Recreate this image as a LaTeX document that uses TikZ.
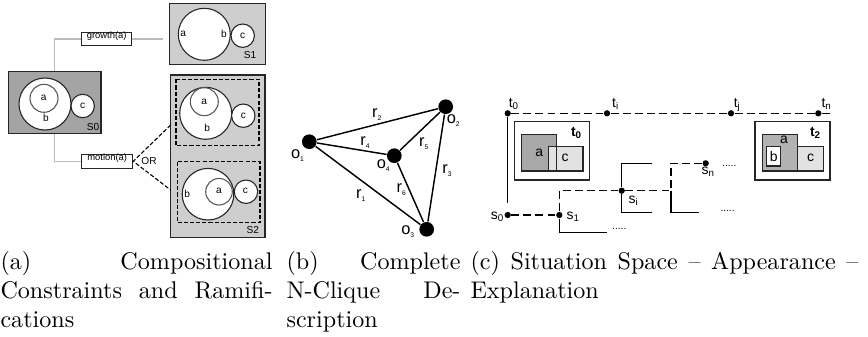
\documentclass[tikz,border=0pt]{standalone}
\usepackage{fontspec}
\newfontfamily\figfont{Liberation Sans}
\usetikzlibrary{fit}
\definecolor{stategray}{HTML}{A4A4A4}
\definecolor{statelight}{HTML}{CECECE}
\definecolor{linkgray}{HTML}{BBBBBB}
\definecolor{regiondark}{HTML}{A8A8A8}
\definecolor{regionmid}{HTML}{B2B2B2}
\definecolor{regionlight}{HTML}{E2E2E2}
\newcommand{\relsub}[1]{\raisebox{-0.35ex}{\fontsize{2.8}{3}\selectfont #1}}

\begin{document}
\begin{tikzpicture}[x=0.415pt, y=-0.415pt, line width=0.45pt,
		statebox/.style={draw=black!85, inner sep=0pt},
		region/.style={draw=black!85, fill=white},
		smalltext/.style={inner sep=0pt, font=\figfont\fontsize{4.2}{5}\selectfont},
		actionbox/.style={draw=black!85, fill=white, inner sep=0pt, font=\figfont\fontsize{3.9}{5}\selectfont},
		object/.style={circle, fill=black, inner sep=0pt, minimum size=6.1pt},
		objtext/.style={inner sep=0pt, font=\figfont\fontsize{6.8}{7}\selectfont},
		event/.style={circle, fill=black, inner sep=0pt, minimum size=2.6pt},
		sittext/.style={inner sep=0pt, font=\figfont\fontsize{5.8}{7}\selectfont},
		timedash/.style={dash pattern=on 3.3pt off 1.7pt},
		boxdash/.style={dash pattern=on 1.7pt off 0.85pt},
		caption/.style={inner sep=0pt, anchor=north west, align=left}]
	\useasboundingbox (0,0) rectangle (868,336);
	%
	% (a) states, actions and ramifications
	\node[statebox, fill=stategray, fit={(8.3,71.7) (101,133.3)}] (sZero) {};
	\node[statebox, fill=statelight, fit={(169.3,3.3) (265.7,64.3)}] (sOne) {};
	\node[statebox, fill=statelight, fit={(170.7,75) (265,237.3)}] (sTwo) {};
	%
	\draw[region] (45,104) circle[radius=26];
	\draw[region, draw=black!65] (44,98.3) circle[radius=14];
	\draw[region] (82.7,106) circle[radius=11.7];
	\node[smalltext] (aZero) at (43.7,98.3) {a};
	\node[smalltext] (bZero) at (46,118.3) {b};
	\node[smalltext] (cZero) at (82.7,106) {c};
	\node[smalltext, anchor=south east] (nZero) at (99.8,131) {S0};
	%
	\draw[region] (204.3,34.3) circle[radius=26];
	\draw[region] (242.7,35.7) circle[radius=11.7];
	\node[smalltext] (aOne) at (183.3,34.3) {a};
	\node[smalltext] (bOne) at (224,34.3) {b};
	\node[smalltext] (cOne) at (242.7,35.7) {c};
	\node[smalltext, anchor=south east] (nOne) at (256.7,59.3) {S1};
	%
	\draw[boxdash] (176,79.3) rectangle (259,145.7);
	\draw[region] (205.7,113.3) circle[radius=26];
	\draw[region, draw=black!65] (204.3,101.7) circle[radius=14];
	\draw[region] (243.3,115.7) circle[radius=11.7];
	\node[smalltext] (aTwo) at (204.3,101.7) {a};
	\node[smalltext] (bTwo) at (207.3,128.3) {b};
	\node[smalltext] (cTwo) at (243.3,115.7) {c};
	%
	\draw[boxdash] (177.3,161.7) rectangle (260,222.7);
	\draw[region] (208,194.2) circle[radius=25.8];
	\draw[region, draw=black!65] (219,191.7) circle[radius=13.3];
	\draw[region] (246,191.7) circle[radius=11.7];
	\node[smalltext] (aThree) at (219,191.3) {a};
	\node[smalltext] (bThree) at (187.3,194.3) {b};
	\node[smalltext] (cThree) at (245.5,191.3) {c};
	\node[smalltext, anchor=south east] (nTwo) at (259.5,234) {S2};
	%
	\node[actionbox, fit={(81.7,32.3) (131.7,45.7)}] (growth) {growth(a)};
	\node[actionbox, fit={(81.7,154.3) (132.7,168.3)}] (motion) {motion(a)};
	\coordinate (growthEnd) at (163.3,39);
	\coordinate (orUpper) at (170.7,125);
	\coordinate (orLower) at (170.7,190);
	\draw[linkgray] (sZero.north) |- (growth.west);
	\draw[linkgray] (growth.east) -- (growthEnd);
	\draw[linkgray] (sZero.south) |- (motion.west);
	\draw[boxdash] (orUpper) -- (motion.east) -- (orLower);
	\node[smalltext] (orText) at (149,160.8) {OR};
	%
	% (b) clique of objects
	\node[object] (oOne) at (309.3,141.7) {};
	\node[object] (oTwo) at (445.7,106.7) {};
	\node[object] (oThree) at (426.7,229.3) {};
	\node[object] (oFour) at (394.3,155.7) {};
	\draw[line width=0.6pt] (oOne) -- (oTwo) (oOne) -- (oFour) (oOne) -- (oThree)
		(oTwo) -- (oFour) (oTwo) -- (oThree) (oFour) -- (oThree);
	\node[objtext] (oOneText) at (297.5,155.5) {o\relsub{1}};
	\node[objtext] (oTwoText) at (453.3,120.3) {o\relsub{2}};
	\node[objtext] (oThreeText) at (407.8,231.7) {o\relsub{3}};
	\node[objtext] (oFourText) at (383.3,165.3) {o\relsub{4}};
	\node[objtext] (rOne) at (360.7,195.3) {r\relsub{1}};
	\node[objtext] (rTwo) at (376.7,114.5) {r\relsub{2}};
	\node[objtext] (rThree) at (447,170.8) {r\relsub{3}};
	\node[objtext] (rFour) at (365,142.8) {r\relsub{4}};
	\node[objtext] (rFive) at (423.7,143.8) {r\relsub{5}};
	\node[objtext] (rSix) at (401.2,189.7) {r\relsub{6}};
	%
	% (c) situation space
	\node[event] (tZero) at (507.7,113.3) {};
	\node[event] (tI) at (607,113.3) {};
	\node[event] (tJ) at (731,113.3) {};
	\node[event] (tN) at (818.3,113.3) {};
	\coordinate (tEnd) at (831.7,113.3);
	\coordinate (tDrop) at (507.7,203.3);
	\draw[timedash] (tZero) -- (tI) -- (tJ) -- (tN) -- (tEnd);
	\draw (tZero) -- (tDrop);
	\node[sittext, anchor=base west] (tZeroText) at (508.3,107.3) {t\textsubscript{0}};
	\node[sittext, anchor=base west] (tIText) at (611.7,107.3) {t\textsubscript{i}};
	\node[sittext, anchor=base west] (tJText) at (733.3,107.3) {t\textsubscript{j}};
	\node[sittext, anchor=base west] (tNText) at (821,107.3) {t\textsubscript{n}};
	%
	\node[event] (sZ) at (507.7,215) {};
	\node[event] (sO) at (559.3,215) {};
	\node[event] (sI) at (621.7,190.7) {};
	\node[event] (sN) at (705.7,163.3) {};
	\coordinate (sOneLow) at (606.7,232.3);
	\coordinate (sITop) at (651.7,163.3);
	\coordinate (sIBottom) at (651.7,212.3);
	\coordinate (sIFork) at (671,190.7);
	\coordinate (sILow) at (699,212.3);
	\draw[timedash] (sZ) -- (sO);
	\draw[timedash] (sO) |- (sI);
	\draw (sO) |- (sOneLow);
	\draw (sITop) -| (sI) |- (sIBottom);
	\draw[timedash] (sI) -- (sIFork) |- (sN);
	\draw (sIFork) |- (sILow);
	\node[sittext, anchor=base east] (sZText) at (505,219) {s\textsubscript{0}};
	\node[sittext, anchor=base west] (sOText) at (566,219) {s\textsubscript{1}};
	\node[sittext, anchor=base west] (sIText) at (628,203.5) {s\textsubscript{i}};
	\node[sittext, anchor=base west] (sNText) at (701,174.5) {s\textsubscript{n}};
	\node[smalltext, anchor=base west] (moreOne) at (611.7,229.5) {.....};
	\node[smalltext, anchor=base west] (moreTwo) at (721.7,166) {.....};
	\node[smalltext, anchor=base west] (moreThree) at (720,211.5) {.....};
	%
	\draw[region] (514.3,121.7) rectangle (589.7,180);
	\draw[draw=black!85, fill=regiondark] (521.7,134.3) rectangle (556.7,171);
	\draw[draw=black!85, fill=regionlight] (548.3,146.7) rectangle (583,171);
	\draw[draw=black!85] (556.7,146.7) -- (556.7,171);
	\node[sittext] (aEarly) at (539.3,152.7) {a};
	\node[sittext] (cEarly) at (565,158.3) {c};
	\node[sittext, anchor=base west, font=\figfont\bfseries\fontsize{5.8}{7}\selectfont] (tEarly) at (570.5,136) {t\textsubscript{0}};
	%
	\draw[region] (755,121.7) rectangle (830,180);
	\draw[draw=black!85, fill=regionmid] (762.7,134.3) rectangle (797.7,171);
	\draw[draw=black!85, fill=white] (766.7,146.7) rectangle (780.7,166);
	\draw[draw=black!85, fill=regionlight] (797.7,146.7) rectangle (823.3,171);
	\node[sittext] (aLate) at (784,140) {a};
	\node[sittext] (bLate) at (773.7,156.3) {b};
	\node[sittext] (cLate) at (810.5,158.3) {c};
	\node[sittext, anchor=base west, font=\figfont\bfseries\fontsize{5.8}{7}\selectfont] (tLate) at (809.5,136) {t\textsubscript{2}};
	%
	% captions
	\node[caption] (capA) at (0,250.9) {\makebox[112.9pt][s]{(a) Compositional}\\\makebox[112.9pt][s]{Constraints and Ramifi-}\\cations};
	\node[caption] (capB) at (286,250.9) {\makebox[72.2pt][s]{(b) Complete}\\\makebox[72.2pt][s]{N-Clique De-}\\scription};
	\node[caption] (capC) at (470,250.9) {\makebox[161pt][s]{(c) Situation Space -- Appearance --}\\Explanation};
\end{tikzpicture}
\end{document}
